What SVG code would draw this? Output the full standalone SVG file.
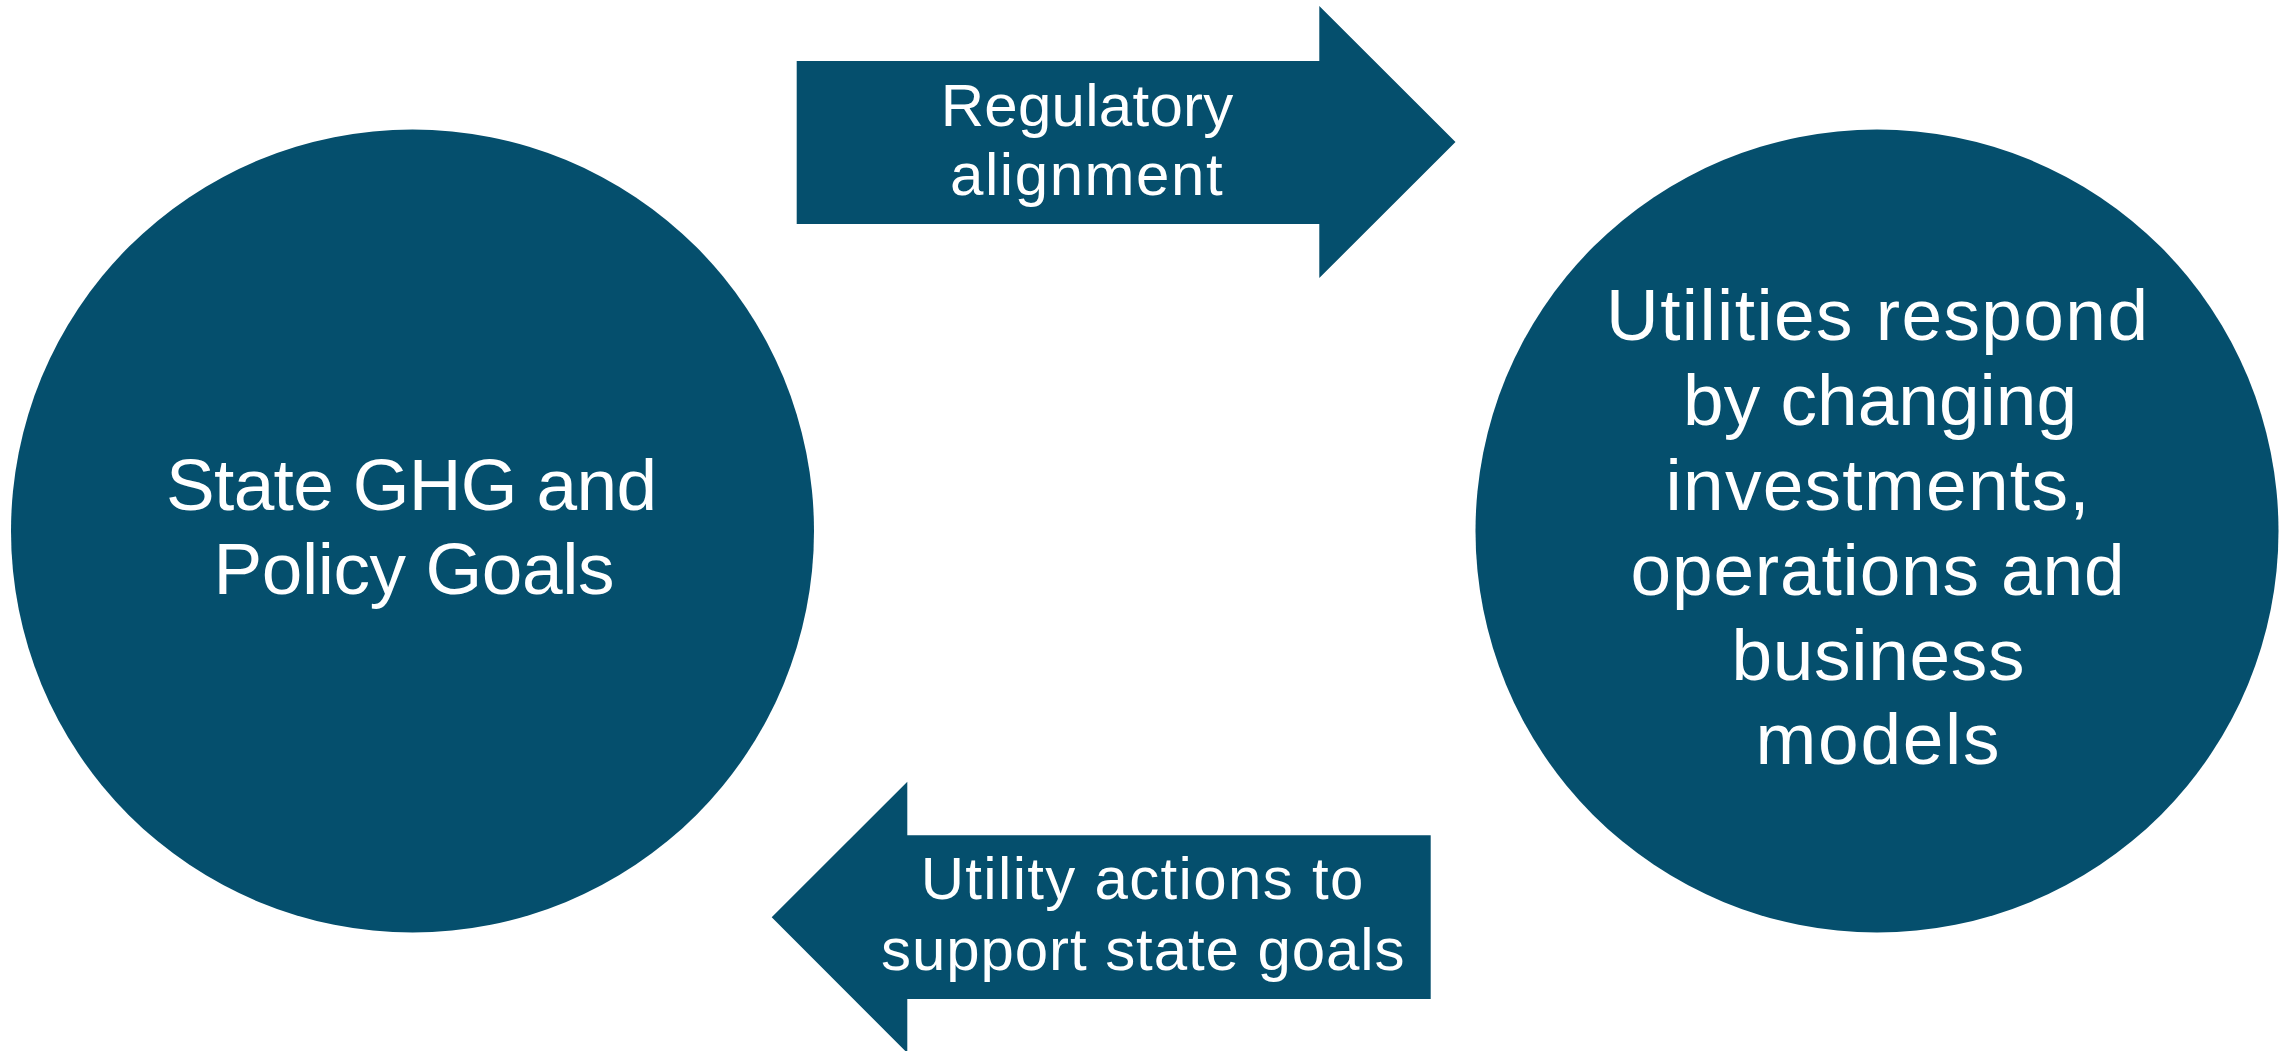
<svg xmlns="http://www.w3.org/2000/svg" width="2287" height="1051" viewBox="0 0 2287 1051">
  <style>
    .shape { fill: #054F6D; }
    .big { font-family: "Liberation Sans", Arial, sans-serif; font-size: 73px; fill: #FFFFFF; text-anchor: middle; }
    .lbl { font-family: "Liberation Sans", Arial, sans-serif; font-size: 60px; fill: #FFFFFF; text-anchor: middle; }
  </style>
  <rect x="0" y="0" width="2287" height="1051" fill="#FFFFFF"/>
  <g id="node-state-goals">
    <circle class="shape" cx="412.5" cy="531" r="401.5"/>
    <text class="big" x="411.5" y="510" textLength="491" lengthAdjust="spacing">State GHG and</text>
    <text class="big" x="414" y="594" textLength="401" lengthAdjust="spacing">Policy Goals</text>
  </g>
  <g id="node-utilities">
    <circle class="shape" cx="1877" cy="531" r="401.5"/>
    <text class="big" x="1877" y="339.5" textLength="542" lengthAdjust="spacing">Utilities respond</text>
    <text class="big" x="1880" y="425" textLength="394" lengthAdjust="spacing">by changing</text>
    <text class="big" x="1877.5" y="509.5" textLength="424" lengthAdjust="spacing">investments,</text>
    <text class="big" x="1877.5" y="595" textLength="494" lengthAdjust="spacing">operations and</text>
    <text class="big" x="1878" y="679.5" textLength="293" lengthAdjust="spacing">business</text>
    <text class="big" x="1877.5" y="764" textLength="244" lengthAdjust="spacing">models</text>
  </g>
  <g id="connectors">
    <g id="arrow-regulatory-alignment">
      <path class="shape" d="M796.7,61 H1319.3 V6 L1455.5,142 L1319.3,278 V224 H796.7 Z"/>
      <text class="lbl" x="1087" y="125.7" textLength="292.7" lengthAdjust="spacing">Regulatory</text>
      <text class="lbl" x="1086.3" y="195" textLength="272.7" lengthAdjust="spacing">alignment</text>
    </g>
    <g id="arrow-utility-actions">
      <path class="shape" d="M1430.7,835.3 H907.3 V781.7 L771.7,917.3 L907.3,1053 V999 H1430.7 Z"/>
      <text class="lbl" x="1142" y="899.3" textLength="442.7" lengthAdjust="spacing">Utility actions to</text>
      <text class="lbl" x="1142.8" y="970" textLength="523.6" lengthAdjust="spacing">support state goals</text>
    </g>
  </g>
</svg>
